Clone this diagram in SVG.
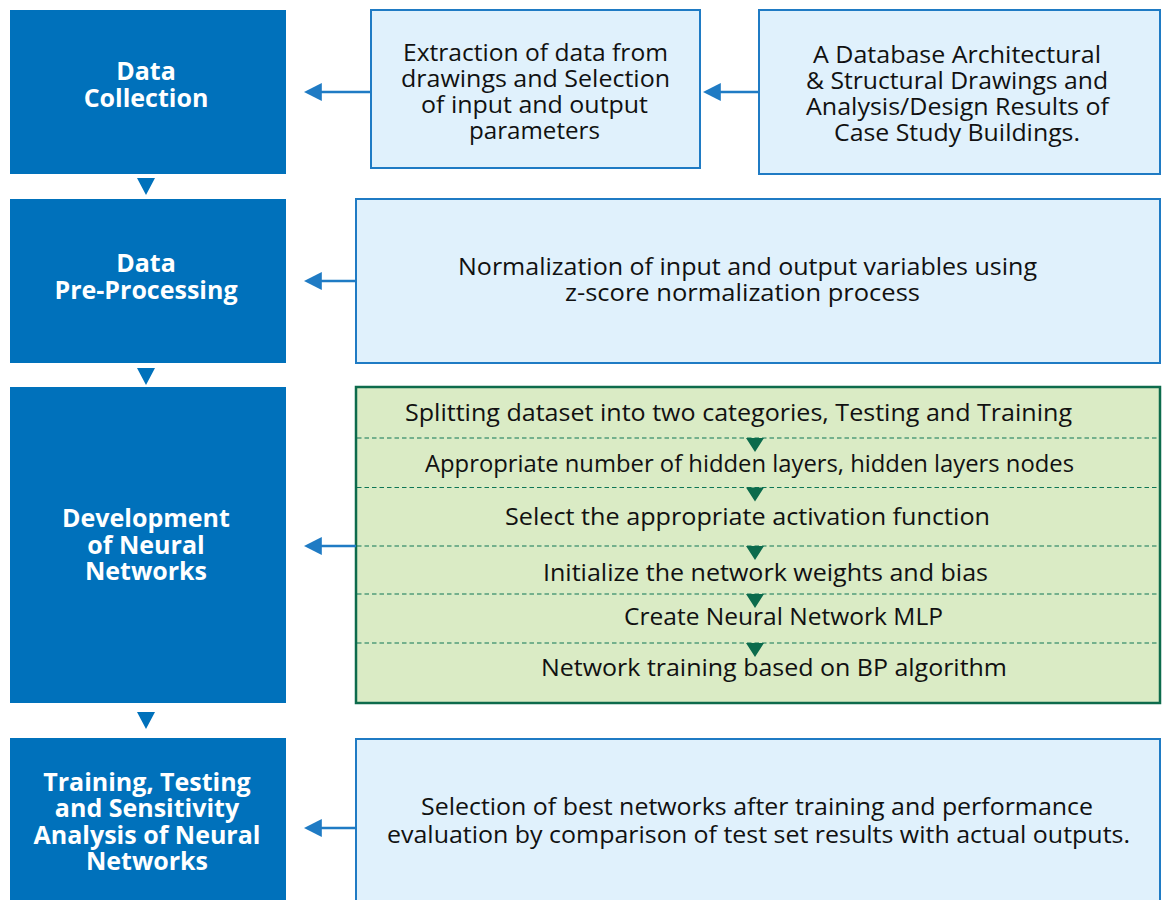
<svg xmlns="http://www.w3.org/2000/svg" width="1165" height="900" viewBox="0 0 1165 900">
<defs>
<style>
.stage{fill:#0071BB}
.st{font-family:"Open Sans","Noto Sans","Liberation Sans",sans-serif;font-weight:bold;font-size:25px;fill:#fff;text-anchor:middle}
.lb{fill:#E0F1FC;stroke:#1F7BC4;stroke-width:2}
.gb{fill:#DAEBC5;stroke:#0D6B4C;stroke-width:2.5}
.tx{font-family:"Open Sans","Noto Sans","Liberation Sans",sans-serif;font-size:23px;fill:#111}
.dash{stroke:#0E7656;stroke-width:1.2;stroke-dasharray:4.5 3;fill:none}
.gtri{fill:#0B6B4C}
.btri{fill:#0071BB}
.conn{stroke:#1F7BC4;stroke-width:2.5;fill:none}
</style>
<marker id="ah" viewBox="0 0 10 10" refX="1" refY="5" markerWidth="7.2" markerHeight="7.2" markerUnits="strokeWidth" orient="auto-start-reverse">
<path d="M0,0 L10,5 L0,10 z" fill="#1F7BC4"/>
</marker>
</defs>
<rect width="1165" height="900" fill="#fff"/>

<g id="stage1">
<rect class="stage" x="10" y="10" width="276" height="164"/>
<text class="st" x="146" y="80">Data</text>
<text class="st" x="146" y="106.5">Collection</text>
</g>
<g id="stage2">
<rect class="stage" x="10" y="199" width="276" height="164"/>
<text class="st" x="146" y="272">Data</text>
<text class="st" x="146" y="298.5">Pre-Processing</text>
</g>
<g id="stage3">
<rect class="stage" x="10" y="387" width="276" height="316"/>
<text class="st" x="146" y="527">Development</text>
<text class="st" x="146" y="553.5">of Neural</text>
<text class="st" x="146" y="580">Networks</text>
</g>
<g id="stage4">
<rect class="stage" x="10" y="738" width="276" height="170"/>
<text class="st" x="147" y="790.5">Training, Testing</text>
<text class="st" x="147" y="817">and Sensitivity</text>
<text class="st" x="147" y="843.5">Analysis of Neural</text>
<text class="st" x="147" y="870">Networks</text>
</g>

<g id="extraction">
<rect class="lb" x="371" y="10" width="329" height="158"/>
<text class="tx" x="403" y="61" textLength="265" lengthAdjust="spacingAndGlyphs">Extraction of data from</text>
<text class="tx" x="401" y="87" textLength="269" lengthAdjust="spacingAndGlyphs">drawings and Selection</text>
<text class="tx" x="421" y="113" textLength="227" lengthAdjust="spacingAndGlyphs">of input and output</text>
<text class="tx" x="469" y="139" textLength="131" lengthAdjust="spacingAndGlyphs">parameters</text>
</g>
<g id="database">
<rect class="lb" x="759" y="10" width="401" height="164"/>
<text class="tx" x="813" y="63" textLength="288" lengthAdjust="spacingAndGlyphs">A Database Architectural</text>
<text class="tx" x="806" y="89" textLength="302" lengthAdjust="spacingAndGlyphs">&amp; Structural Drawings and</text>
<text class="tx" x="806" y="115" textLength="303" lengthAdjust="spacingAndGlyphs">Analysis/Design Results of</text>
<text class="tx" x="834" y="141" textLength="246" lengthAdjust="spacingAndGlyphs">Case Study Buildings.</text>
</g>
<g id="normalization">
<rect class="lb" x="356" y="199" width="804" height="164"/>
<text class="tx" x="458" y="275" textLength="579" lengthAdjust="spacingAndGlyphs">Normalization of input and output variables using</text>
<text class="tx" x="565" y="301" textLength="355" lengthAdjust="spacingAndGlyphs">z-score normalization process</text>
</g>
<g id="development">
<rect class="gb" x="356" y="387" width="804" height="316"/>
<path class="dash" d="M357,438 H1159 M357,487.5 H1159 M357,546 H1159 M357,594 H1159 M357,643 H1159"/>
<path class="gtri" d="M746,438 L764,438 L755,452 z M746,487.5 L764,487.5 L755,501.5 z M746,546 L764,546 L755,560 z M746,594 L764,594 L755,608 z M746,643 L764,643 L755,657 z"/>
<text class="tx" x="405" y="421" textLength="667" lengthAdjust="spacingAndGlyphs">Splitting dataset into two categories, Testing and Training</text>
<text class="tx" x="425" y="472" textLength="649" lengthAdjust="spacingAndGlyphs">Appropriate number of hidden layers, hidden layers nodes</text>
<text class="tx" x="505" y="525" textLength="485" lengthAdjust="spacingAndGlyphs">Select the appropriate activation function</text>
<text class="tx" x="543" y="581" textLength="445" lengthAdjust="spacingAndGlyphs">Initialize the network weights and bias</text>
<text class="tx" x="624" y="625" textLength="319" lengthAdjust="spacingAndGlyphs">Create Neural Network MLP</text>
<text class="tx" x="541" y="676" textLength="466" lengthAdjust="spacingAndGlyphs">Network training based on BP algorithm</text>
</g>
<g id="selection">
<rect class="lb" x="356" y="739" width="804" height="175"/>
<text class="tx" x="421" y="815" textLength="672" lengthAdjust="spacingAndGlyphs">Selection of best networks after training and performance</text>
<text class="tx" x="387" y="843" textLength="743" lengthAdjust="spacingAndGlyphs">evaluation by comparison of test set results with actual outputs.</text>
</g>

<g id="connectors">
<line class="conn" x1="371" y1="92" x2="320" y2="92" marker-end="url(#ah)"/>
<line class="conn" x1="759" y1="92" x2="719" y2="92" marker-end="url(#ah)"/>
<line class="conn" x1="356" y1="281" x2="320" y2="281" marker-end="url(#ah)"/>
<line class="conn" x1="356" y1="546" x2="320" y2="546" marker-end="url(#ah)"/>
<line class="conn" x1="356" y1="828" x2="320" y2="828" marker-end="url(#ah)"/>
<path class="btri" d="M137,178 L155,178 L146,195 z M137,368 L155,368 L146,385 z M137,712 L155,712 L146,729 z"/>
</g>
</svg>
